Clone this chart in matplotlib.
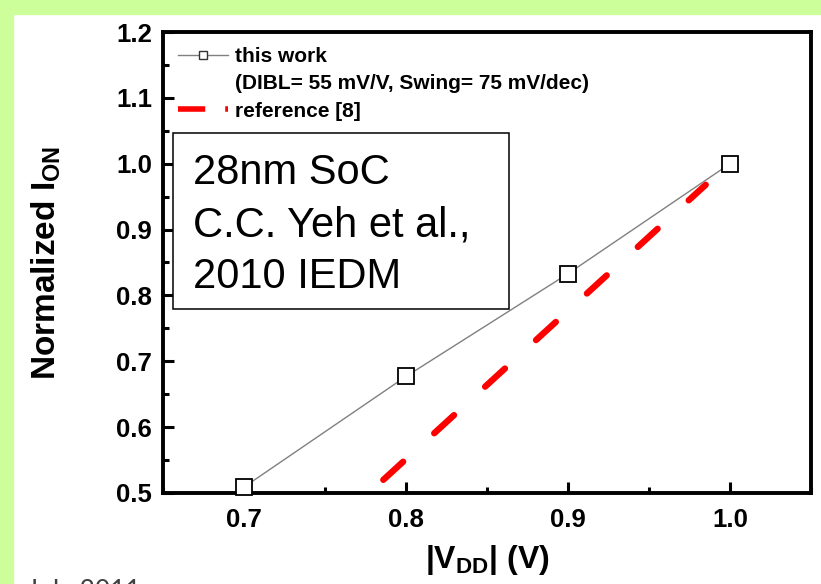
import matplotlib
matplotlib.use("Agg")
import matplotlib.pyplot as plt
from matplotlib.lines import Line2D
from matplotlib.patches import Rectangle
from matplotlib.ticker import MultipleLocator, FormatStrFormatter

plt.rcParams['font.family'] = ['Liberation Sans', 'DejaVu Sans']
plt.rcParams['mathtext.default'] = 'regular'

# ---- data ----
vdd_this = [0.7, 0.8, 0.9, 1.0]
ion_this = [0.509, 0.677, 0.833, 1.0]
vdd_ref = [0.786, 0.985]
ion_ref = [0.520, 0.968]

x_ticks = [0.7, 0.8, 0.9, 1.0]
y_ticks = [0.5, 0.6, 0.7, 0.8, 0.9, 1.0, 1.1, 1.2]

label_this = "this work"
label_this2 = "(DIBL= 55 mV/V, Swing= 75 mV/dec)"
label_ref = "reference [8]"
box_text = "28nm SoC\nC.C. Yeh et al.,\n2010 IEDM"
footer = "July 2011"

W, H = 821, 584
fig = plt.figure(figsize=(W / 100, H / 100), dpi=100, facecolor='white')

# green frame strips
fig.patches.append(Rectangle((0, 0), 13 / W, 1, transform=fig.transFigure,
                             color='#ccff99', zorder=0))
fig.patches.append(Rectangle((0, 1 - 14 / H), 1, 14 / H, transform=fig.transFigure,
                             color='#ccff99', zorder=0))

ax = fig.add_axes([163 / W, 1 - 493 / H, (811 - 163) / W, (493 - 32) / H])

ax.plot(vdd_this, ion_this, color='#808080', lw=1.0, marker='s', markersize=12,
        markerfacecolor='white', markeredgecolor='black', markeredgewidth=1.3,
        zorder=3, clip_on=False)
ax.plot(vdd_ref, ion_ref, color='#ff0000', lw=4.6, linestyle=(0, (4.2, 6.6)),
        dash_capstyle='round', zorder=2)

ax.set_xlim(0.65, 1.05)
ax.set_ylim(0.5, 1.2)
ax.set_xticks(x_ticks)
ax.set_yticks(y_ticks)
ax.xaxis.set_minor_locator(MultipleLocator(0.05))
ax.yaxis.set_minor_locator(MultipleLocator(0.05))
ax.xaxis.set_major_formatter(FormatStrFormatter('%.1f'))
ax.yaxis.set_major_formatter(FormatStrFormatter('%.1f'))

for s in ax.spines.values():
    s.set_linewidth(2.8)
ax.tick_params(which='both', direction='in', width=2.2, top=False, right=False)
ax.tick_params(which='major', length=8, labelsize=18.5)
ax.tick_params(axis='x', which='major', pad=11)
ax.tick_params(axis='y', which='major', pad=8)
ax.tick_params(which='minor', length=4)
for lab in ax.get_xticklabels() + ax.get_yticklabels():
    lab.set_fontweight('bold')

ax.set_xlabel(r"|V$_{DD}$| (V)", fontsize=23, fontweight='bold', labelpad=8)
ax.set_ylabel(r"Normalized I$_{ON}$", fontsize=24, fontweight='bold', labelpad=38)

# legend
h1 = Line2D([], [], color='#808080', lw=1.0, marker='s', markersize=6,
            markerfacecolor='white', markeredgecolor='#333333', markeredgewidth=1.0)
h2 = Line2D([], [], linestyle='none')
h3 = Line2D([], [], color='#ff0000', lw=4.0, linestyle=(0, (4.9, 3.6)),
            dash_capstyle='butt')
leg = ax.legend([h1, h2, h3], [label_this, label_this2, label_ref],
                loc='upper left', bbox_to_anchor=(0, 1), borderaxespad=0,
                frameon=False, borderpad=0.72, handlelength=2.4,
                handletextpad=0.33, labelspacing=0.4,
                prop={'size': 15, 'weight': 'bold'})

# annotation box
ax.add_patch(Rectangle((0.0154, 0.399), 0.5186, 0.382, transform=ax.transAxes,
                       facecolor='white', edgecolor='black', lw=1.1, zorder=5))
ax.text(0.046, 0.737, box_text, transform=ax.transAxes, fontsize=30,
        va='top', ha='left', linespacing=1.38, zorder=6, color='black')

fig.text(27 / W, (H - 599) / H, footer, fontsize=19, family='Lato',
         color='#404040', va='baseline', ha='left')

fig.savefig("out.png", dpi=100, facecolor=fig.get_facecolor())
